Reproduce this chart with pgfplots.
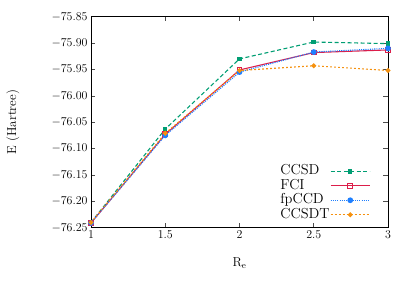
\documentclass[border=0pt]{standalone}
\usepackage{pgfplots}
\pgfplotsset{compat=1.18}
\definecolor{ccsd}{HTML}{009E73}
\definecolor{fci}{HTML}{DC1E4A}
\definecolor{fpccd}{HTML}{1E7FFF}
\definecolor{ccsdt}{HTML}{F5910F}
\begin{document}
\begin{tikzpicture}
\path[use as bounding box] (-91bp,-62.3bp) rectangle (324bp,227.7bp);
\begin{axis}[
  scale only axis,
  width=297bp, height=211bp,
  at={(0,0)}, anchor=south west,
  xmin=1, xmax=3, ymin=-76.25, ymax=-75.85,
  xtick={1,1.5,2,2.5,3},
  ytick={-76.25,-76.20,-76.15,-76.10,-76.05,-76.00,-75.95,-75.90,-75.85},
  yticklabel style={/pgf/number format/.cd, fixed, fixed zerofill, precision=2},
  tick label style={font=\fontsize{13}{15}\selectfont},
  label style={font=\fontsize{13}{15}\selectfont},
  tick align=inside,
  major tick length=4.5bp,
  tick style={black!70, line width=0.6bp},
  axis line style={line width=0.9bp},
  xlabel={R$_{\mathrm{e}}$},
  ylabel={E (Hartree)},
  xlabel style={at={(axis description cs:0.5,0)}, anchor=center, yshift=-35bp},
  ylabel style={at={(axis description cs:0,0.5)}, anchor=center, yshift=78bp},
  legend plot pos=right,
  legend cell align=left,
  legend style={draw=none, fill=none, at={(axis description cs:1,0)}, anchor=south east,
    xshift=-17bp, yshift=5bp, font=\fontsize{14.5}{16}\selectfont,
    row sep=0bp, inner sep=0.5bp,
    nodes={text height=10.25bp, text depth=3.25bp, inner sep=0.5bp}},
  legend image code/.code={\draw[mark repeat=2,mark phase=2,#1] plot coordinates {(0bp,0bp) (19.5bp,0bp) (39bp,0bp)};},
]
\addplot[color=ccsd, line width=1.1bp, dash pattern=on 4bp off 2.5bp, mark=square*, mark size=1.7bp, mark options={solid}]
  coordinates {(1,-76.240) (1.5,-76.063) (2,-75.930) (2.5,-75.898) (3,-75.901)};
\addlegendentry{CCSD}
\addplot[color=fci, line width=1.1bp, mark=square, mark size=2.3bp, mark options={solid, line width=1.1bp}]
  coordinates {(1,-76.241) (1.5,-76.073) (2,-75.951) (2.5,-75.918) (3,-75.913)};
\addlegendentry{FCI}
\addplot[color=fpccd, line width=1.1bp, dash pattern=on 1.1bp off 1.1bp, mark=*, mark size=2.3bp, mark options={solid}]
  coordinates {(1,-76.241) (1.5,-76.075) (2,-75.955) (2.5,-75.917) (3,-75.910)};
\addlegendentry{fpCCD}
\addplot[color=ccsdt, line width=1.1bp, dash pattern=on 1.8bp off 2.2bp, mark=*, mark size=1.8bp, mark options={solid}]
  coordinates {(1,-76.240) (1.5,-76.071) (2,-75.952) (2.5,-75.943) (3,-75.952)};
\addlegendentry{CCSDT}
\end{axis}
\end{tikzpicture}
\end{document}
